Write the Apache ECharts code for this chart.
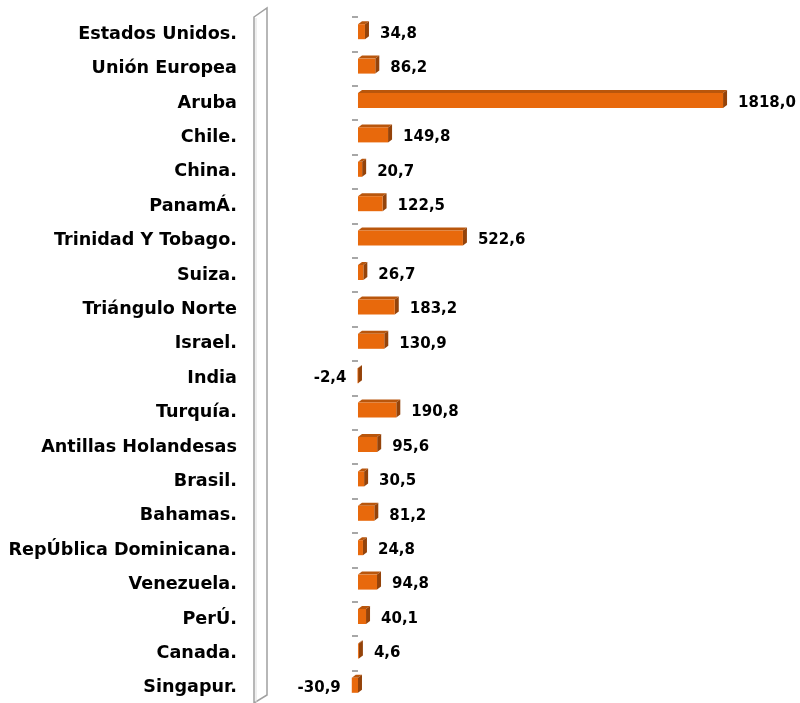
<!DOCTYPE html>
<html>
<head>
<meta charset="utf-8">
<script src="https://cdn.jsdelivr.net/npm/echarts@6/dist/echarts.min.js"></script>
<style>
  html, body { margin: 0; padding: 0; background: #fff; }
  #main { width: 800px; height: 703px; }
</style>
</head>
<body>
<div id="main"></div>
<script>
// categorias y valores
var categories = [
  'Estados Unidos.', 'Unión Europea', 'Aruba', 'Chile.', 'China.', 'PanamÁ.',
  'Trinidad Y Tobago.', 'Suiza.', 'Triángulo Norte', 'Israel.', 'India',
  'Turquía.', 'Antillas Holandesas', 'Brasil.', 'Bahamas.',
  'RepÚblica Dominicana.', 'Venezuela.', 'PerÚ.', 'Canada.', 'Singapur.'
];
var values = [
  34.8, 86.2, 1818.0, 149.8, 20.7, 122.5, 522.6, 26.7, 183.2, 130.9,
  -2.4, 190.8, 95.6, 30.5, 81.2, 24.8, 94.8, 40.1, 4.6, -30.9
];

var chart = echarts.init(document.getElementById('main'));

function fmt(v) {
  return v.toFixed(1).replace('.', ',');
}

// barra con efecto 3D: cara frontal, cara superior y cara lateral
function renderBar(params, api) {
  var idx = api.value(0);
  var v = api.value(1);
  var p0 = api.coord([0, idx]);
  var p1 = api.coord([v, idx]);
  var h = 15, dx = 4, dy = 3;
  var cy = p0[1] - 2.5;
  var xl = Math.min(p0[0], p1[0]);
  var xr = Math.max(p0[0], p1[0]);
  var yt = cy - h / 2;
  var yb = cy + h / 2;
  var children = [
    {
      type: 'polygon',
      shape: { points: [[xl, yt], [xl + dx, yt - dy], [xr + dx, yt - dy], [xr, yt]] },
      style: { fill: '#b9560c' }
    },
    {
      type: 'polygon',
      shape: { points: [[xr, yt], [xr + dx, yt - dy], [xr + dx, yb - dy], [xr, yb]] },
      style: { fill: '#94430a' }
    },
    {
      type: 'rect',
      shape: { x: xl, y: yt, width: Math.max(xr - xl, 0.8), height: h },
      style: { fill: '#e8690c' }
    }
  ];
  var label = {
    type: 'text',
    style: {
      text: fmt(v),
      font: 'bold 15px "DejaVu Sans"',
      fill: '#000',
      verticalAlign: 'middle'
    }
  };
  if (v >= 0) {
    label.x = xr + 15;
    label.style.align = 'left';
  } else {
    label.x = xl - 11;
    label.style.align = 'right';
  }
  label.y = cy + 2.5;
  children.push(label);
  return { type: 'group', children: children };
}

var option = {
  animation: false,
  backgroundColor: '#fff',
  grid: {
    left: 337.9,
    width: 421.7,
    top: 17,
    height: 688,
    outerBoundsMode: 'none'
  },
  xAxis: {
    type: 'value',
    min: -100,
    max: 2000,
    show: false,
    splitLine: { show: false }
  },
  yAxis: {
    type: 'category',
    inverse: true,
    data: categories,
    axisLine: { show: false, onZero: true },
    axisTick: { show: true, length: 6, lineStyle: { color: '#8a8a8a', width: 1.5 } },
    axisLabel: {
      margin: 101,
      color: '#000',
      fontWeight: 'bold',
      fontSize: 17.6,
      fontFamily: 'DejaVu Sans',
      padding: [3, 0, 0, 0]
    }
  },
  // pared lateral del grafico 3D
  graphic: [
    {
      type: 'polygon',
      shape: { points: [[254, 17], [267, 8], [267, 695], [254, 703]] },
      style: { fill: '#fff', stroke: '#a0a0a0', lineWidth: 1.5 },
      z: -1
    },
    {
      type: 'polyline',
      shape: { points: [[256, 18], [256, 702]] },
      style: { stroke: '#dedede', lineWidth: 1 },
      z: -1
    }
  ],
  series: [
    {
      type: 'custom',
      renderItem: renderBar,
      encode: { x: 1, y: 0 },
      data: values.map(function (v, i) { return [i, v]; })
    }
  ]
};

chart.setOption(option);
</script>
</body>
</html>
